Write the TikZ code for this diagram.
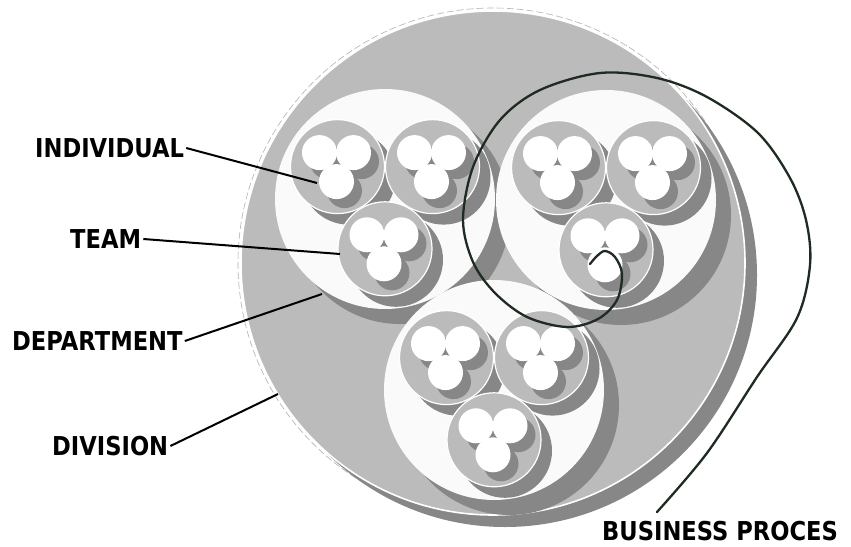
\documentclass[tikz,border=0pt]{standalone}
\usepackage{fontspec}
\newfontfamily\lblfont[FakeStretch=0.87]{DejaVu Sans}
\definecolor{lg}{HTML}{BBBBBB}
\definecolor{dg}{HTML}{878787}
\definecolor{nw}{HTML}{FAFAFA}
\definecolor{spiralc}{HTML}{1E2B20}
\begin{document}
\begin{tikzpicture}[x=1pt,y=-1pt,
  lbl/.style={font=\lblfont\bfseries\fontsize{26}{28}\selectfont, inner sep=2pt, anchor=west},
  pointer/.style={line width=2pt, black},
  shadowfill/.style={fill=dg},
  teamcirc/.style={fill=lg, draw=white, line width=1.2pt},
  deptcirc/.style={fill=nw},
  divcirc/.style={fill=lg, draw=white, line width=1.6pt},
  spiralline/.style={spiralc, line width=2.3pt, line cap=round, line join=round}]
\path[use as bounding box, fill=white] (0,0) rectangle (851,546);

% division
\draw[gray!60, line width=0.6pt, dash pattern=on 7pt off 3pt] (493,263) circle[radius=255pt];
\fill[shadowfill] (505,275) circle[radius=252pt];
\path[divcirc] (493,263) circle[radius=252pt];

% departments
\foreach \cx/\cy in {385/199,606/200,494/390}
  \fill[shadowfill] (\cx+15,\cy+15) circle[radius=110pt];
\foreach \cx/\cy in {385/199,606/200,494/390}
  \fill[deptcirc] (\cx,\cy) circle[radius=110pt];

% teams and individuals
\foreach \cx/\cy in {385/199,606/200,494/390}{
  \begin{scope}[shift={(\cx,\cy-5)}]
    \foreach \tx/\ty in {-47.5/-27.4,47.5/-27.4,0/54.8}{
      \fill[shadowfill] (\tx+11,\ty+11) circle[radius=47pt];
      \path[teamcirc] (\tx,\ty) circle[radius=47pt];
      \begin{scope}[shift={(\tx,\ty)}]
        \foreach \ix/\iy in {-18/-14,16/-14,-1/15}
          \fill[shadowfill] (\ix+8,\iy+9) circle[radius=17.5pt];
        \foreach \ix/\iy in {-18/-14,16/-14,-1/15}
          \fill[white] (\ix,\iy) circle[radius=17.5pt];
      \end{scope}
    }
  \end{scope}
}

% labels
\node[lbl] (ind) at (33,148) {INDIVIDUAL};
\node[lbl] (team) at (68,239) {TEAM};
\node[lbl] (dept) at (10,341) {DEPARTMENT};
\node[lbl] (div) at (50,446) {DIVISION};
\node[lbl] (bp) at (600,531) {BUSINESS PROCES};

\coordinate (indtip) at (317,183);
\coordinate (teamtip) at (340,254);
\coordinate (depttip) at (322,294);
\coordinate (divtip) at (278,394);
\coordinate (bpstart) at (657,512);

\draw[pointer] (ind.east) -- (indtip);
\draw[pointer] (team.east) -- (teamtip);
\draw[pointer] (dept.east) -- (depttip);
\draw[pointer] (div.east) -- (divtip);

% business process spiral
\draw[spiralline] plot[smooth, tension=0.55] coordinates {
  (bpstart) (707,453) (757,377) (797,318) (810,265) (806,220) (790,178)
  (758,133) (707,97) (657,78) (600,73) (540,90) (500,120) (473,167)
  (463,220) (473,262) (495,293) (527,317) (567,327) (598,319) (617,300)
  (622,274) (615,257) (605,251) (597,256) (590,264)};
\end{tikzpicture}
\end{document}
